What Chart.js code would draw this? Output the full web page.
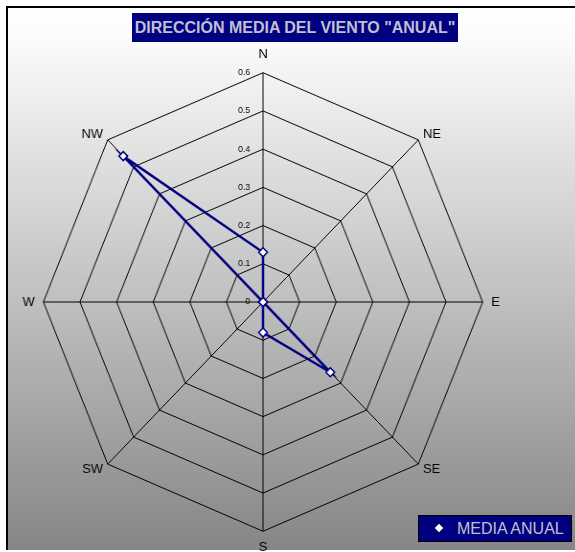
<!DOCTYPE html>
<html>
<head>
<meta charset="utf-8">
<script src="https://cdn.jsdelivr.net/npm/chart.js@4.4.1/dist/chart.umd.min.js"></script>
<style>
  html, body { margin: 0; padding: 0; width: 575px; height: 552px; overflow: hidden; background: #fff; }
  #frame {
    position: absolute; left: 6px; top: 6px; width: 620px; height: 542px;
    border-left: 2px solid #000; border-top: 2px solid #000;
    background: linear-gradient(#ffffff 0%, #fbfbfb 6%, #868686 100%);
  }
  /* the Excel original is a little squeezed horizontally */
  #chart { position: absolute; left: 0; top: 0; transform: scaleX(0.958); transform-origin: 263px 0; }
  #title {
    position: absolute; left: 132px; top: 13px; width: 326px; height: 29px;
    background: #000080; color: #c0c0d0; text-align: center;
    font: bold 16px "Liberation Sans", Arial, sans-serif; line-height: 29px;
  }
  #legend {
    position: absolute; left: 418px; top: 515px; width: 152px; height: 25px;
    background: #000080; border: 1px solid #000; color: #c0c0d0;
    font: 16px "Liberation Sans", Arial, sans-serif; line-height: 25px;
  }
  #legend .mark {
    position: absolute; left: 17px; top: 9px; width: 6px; height: 6px;
    background: #fff; transform: rotate(45deg);
  }
  #legend .txt { position: absolute; left: 38px; top: 0; }
</style>
</head>
<body>
<div id="frame"></div>
<canvas id="chart" width="527" height="605"></canvas>
<div id="title">DIRECCIÓN MEDIA DEL VIENTO "ANUAL"</div>
<div id="legend"><span class="mark"></span><span class="txt" id="legend-text"></span></div>
<script>
// --- Data ---
const directions = ["N", "NE", "E", "SE", "S", "SW", "W", "NW"];
const mediaAnual = [0.13, 0, 0, 0.26, 0.08, 0, 0, 0.54];
const tickLabels = ["0", "0.1", "0.2", "0.3", "0.4", "0.5", "0.6"];
const seriesName = "MEDIA ANUAL";

document.getElementById("legend-text").textContent = seriesName;

const FONT = '"Liberation Sans", Arial, sans-serif';

// tick labels sit left of the N axis, right aligned (Excel style)
const tickLabelPlugin = {
  id: "tickLabels",
  afterDraw(chart) {
    const scale = chart.scales.r;
    const ctx = chart.ctx;
    ctx.save();
    ctx.font = "9px " + FONT;
    ctx.fillStyle = "#000";
    ctx.textAlign = "right";
    ctx.textBaseline = "middle";
    scale.ticks.forEach((tick) => {
      const r = scale.getDistanceFromCenterForValue(tick.value);
      ctx.fillText(tick.label, scale.xCenter - 13.5, scale.yCenter - r);
    });
    ctx.restore();
  },
};

// padding per label: N, S a bit further out, diagonals close to the corner
const labelPadding = (c) => {
  if (c.index === 0) return 10;
  if (c.index === 4) return 8;
  return c.index % 2 ? 7 : 9;
};

const ctx = document.getElementById("chart").getContext("2d");
new Chart(ctx, {
  type: "radar",
  data: {
    labels: directions,
    datasets: [
      {
        label: seriesName,
        data: mediaAnual,
        borderColor: "#000080",
        borderWidth: 2.5,
        fill: false,
        pointStyle: "rectRot",
        pointRadius: 4.5,
        pointBackgroundColor: "#fff",
        pointBorderColor: "#000080",
        pointBorderWidth: 1.5,
      },
    ],
  },
  options: {
    responsive: false,
    animation: false,
    layout: { padding: { left: 11, right: 14, top: 0, bottom: 0 } },
    plugins: {
      legend: { display: false },
      title: { display: false },
      tooltip: { enabled: false },
    },
    elements: { line: { tension: 0 } },
    scales: {
      r: {
        min: 0,
        max: 0.6,
        ticks: {
          display: false,
          stepSize: 0.1,
          callback: (value, index) => tickLabels[index],
        },
        grid: { color: "#000", lineWidth: 1, circular: false },
        angleLines: { color: "#000", lineWidth: 1 },
        pointLabels: {
          padding: labelPadding,
          color: "#000",
          // diagonals: tiny line height so the text is centred on its corner
          font: (c) => ({ family: FONT, size: 13.5, lineHeight: c.index % 2 ? 0.1 : 1.2 }),
        },
      },
    },
  },
  plugins: [tickLabelPlugin],
});
</script>
</body>
</html>
